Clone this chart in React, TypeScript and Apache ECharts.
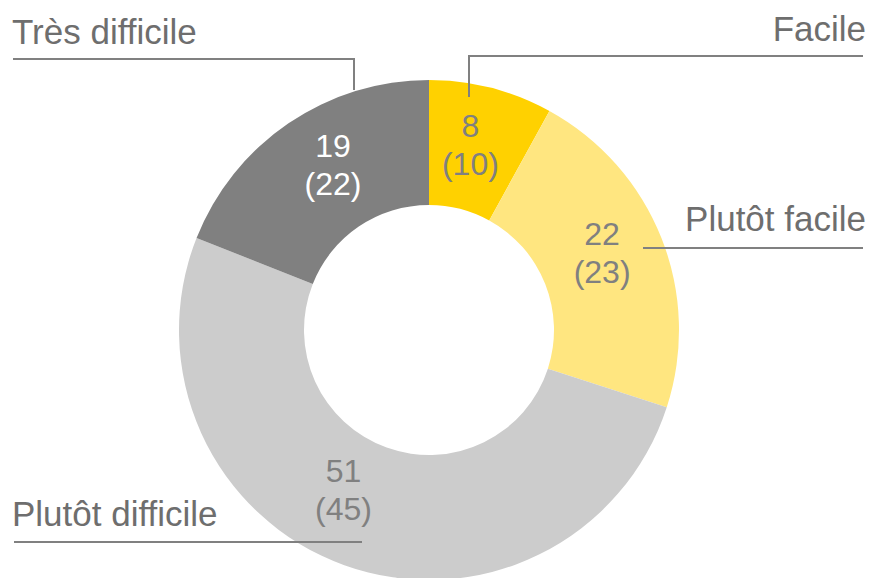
import React, { useEffect, useRef } from "react";
import * as echarts from "echarts";

const categories = ["Facile", "Plutôt facile", "Plutôt difficile", "Très difficile"];
const currentValues = [8, 22, 51, 19];
const previousValues = [10, 23, 45, 22];
const sliceColors = ["#FFD100", "#FFE680", "#CCCCCC", "#808080"];
const valueLabelColors = ["#808080", "#808080", "#808080", "#FFFFFF"];

// label placement (styling only)
const outerLabelPlacement = [
  { x: 866, y: 28, align: "right", points: [[469, 97], [469, 56], [863, 56]] },
  { x: 866, y: 218, align: "right", points: [[643, 248], [753, 248], [863, 248]] },
  { x: 12, y: 513, align: "left", points: [[362, 542], [188, 542], [14, 542]] },
  { x: 12, y: 31, align: "left", points: [[354, 90], [354, 59], [13, 59]] },
];
const innerLabelShift = [
  [-6, 0],
  [-4, -7],
  [-21, -19],
  [11, -7],
];

export default function App() {
  const ref = useRef<HTMLDivElement>(null);
  useEffect(() => {
    document.body.style.margin = "0";
    const chart = echarts.init(ref.current!, null, { renderer: "svg" });
    const data = categories.map((name, i) => ({
      name,
      value: currentValues[i],
      itemStyle: { color: sliceColors[i] },
      label: { color: valueLabelColors[i] },
    }));
    const font = "'Liberation Sans', Arial, sans-serif";
    chart.setOption({
      animation: false,
      backgroundColor: "#FFFFFF",
      series: [
        {
          type: "pie",
          center: [429, 330],
          radius: [125, 250],
          startAngle: 90,
          clockwise: true,
          silent: true,
          itemStyle: { borderWidth: 0 },
          label: {
            show: true,
            position: "inside",
            fontFamily: font,
            fontSize: 32,
            lineHeight: 38,
            formatter: (p: any) => `${p.value}\n(${previousValues[p.dataIndex]})`,
          },
          labelLayout: (p: any) => ({
            dx: innerLabelShift[p.dataIndex][0],
            dy: innerLabelShift[p.dataIndex][1],
          }),
          data,
        },
        {
          type: "pie",
          center: [429, 330],
          radius: [125, 250],
          startAngle: 90,
          clockwise: true,
          silent: true,
          z: 5,
          itemStyle: { color: "rgba(0,0,0,0)", borderWidth: 0 },
          label: {
            show: true,
            position: "outside",
            fontFamily: font,
            fontSize: 35,
            color: "#6E6E6E",
            overflow: "none",
            formatter: "{b}",
          },
          labelLine: {
            show: true,
            lineStyle: { color: "#808080", width: 2 },
          },
          labelLayout: (p: any) => {
            const c = outerLabelPlacement[p.dataIndex];
            return {
              x: c.x,
              y: c.y,
              align: c.align,
              verticalAlign: "middle",
              labelLinePoints: c.points,
            };
          },
          data: categories.map((name, i) => ({ name, value: currentValues[i] })),
        },
      ],
    });
    return () => chart.dispose();
  }, []);
  return <div ref={ref} style={{ width: 872, height: 578 }} />;
}
